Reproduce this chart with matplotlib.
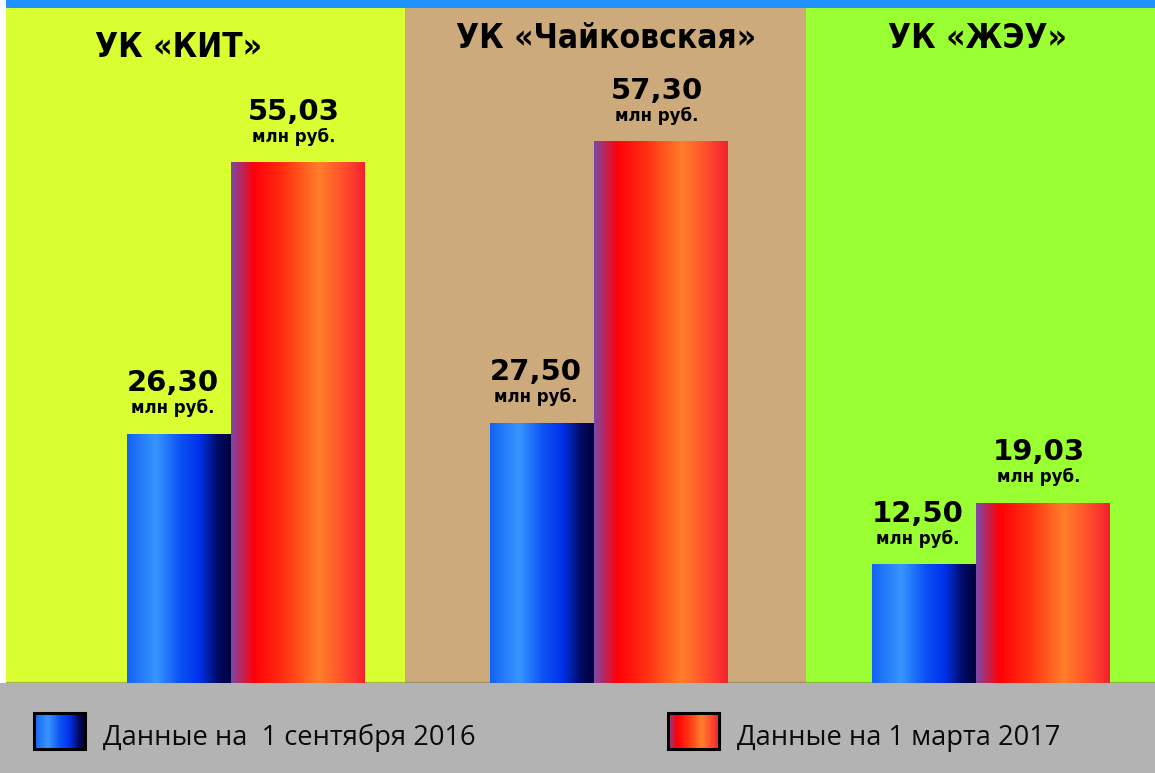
import matplotlib
matplotlib.use('Agg')
import matplotlib.pyplot as plt
import numpy as np
from matplotlib.colors import LinearSegmentedColormap
from matplotlib.patches import Rectangle

# data
companies = ['УК «КИТ»', 'УК «Чайковская»', 'УК «ЖЭУ»']
sep_2016 = [26.30, 27.50, 12.50]
mar_2017 = [55.03, 57.30, 19.03]
sep_labels = ['26,30', '27,50', '12,50']
mar_labels = ['55,03', '57,30', '19,03']
legend_labels = ['Данные на  1 сентября 2016', 'Данные на 1 марта 2017']
unit = 'млн руб.'

panel_colors = ['#d9ff33', '#cdaa7b', '#99ff33']
panel_edges = [0, 399, 800, 1149]
blue_left = [121, 484, 866]
blue_w, red_w = 104, 134
title_x = [173, 600, 971]
title_base = [57, 48, 48]

blue_cmap = LinearSegmentedColormap.from_list('b', [
    (0.0, '#1462f2'), (0.28, '#3896ff'), (0.5, '#0d55f5'),
    (0.7, '#0030ea'), (0.88, '#000a60'), (1.0, '#00003c')])
red_cmap = LinearSegmentedColormap.from_list('r', [
    (0.0, '#7b48a8'), (0.17, '#ff0008'), (0.4, '#ff3212'),
    (0.66, '#ff7f2a'), (0.85, '#ff4c2c'), (1.0, '#f42030')])
grad = np.linspace(0, 1, 256).reshape(1, -1)

W, H = 1155, 773
fig = plt.figure(figsize=(W / 100, H / 100), dpi=100)
fig.patch.set_facecolor('white')

# top strip
fig.add_artist(Rectangle((6 / W, 1 - 8 / H), 1, 8 / H, transform=fig.transFigure,
                         color='#1e90ff', lw=0))

ax = fig.add_axes([6 / W, 90 / H, 1149 / W, 675 / H])
ax.axis('off')

for i in range(3):
    ax.axvspan(panel_edges[i], panel_edges[i + 1], color=panel_colors[i], lw=0, zorder=0)
ax.axhline(0.05, color='#7d7d55', lw=1.5, alpha=0.6, zorder=1)

px = 675 / 9.45 / 675  # data units per pixel (vertical)
for i in range(3):
    bx = blue_left[i]
    rx = bx + blue_w
    ax.imshow(grad, cmap=blue_cmap, extent=[bx, rx, 0, sep_2016[i]],
              aspect='auto', interpolation='bicubic', zorder=2)
    ax.imshow(grad, cmap=red_cmap, extent=[rx, rx + red_w, 0, mar_2017[i]],
              aspect='auto', interpolation='bicubic', zorder=2)
    for cx, val, lab in [(bx + blue_w / 2 - 6, sep_2016[i], sep_labels[i]),
                         (rx + red_w / 2 - 4, mar_2017[i], mar_labels[i])]:
        ax.text(cx, val + 43 * px, lab, ha='center', va='baseline',
                fontsize=21, fontweight='bold', family='DejaVu Sans', zorder=3)
        ax.text(cx, val + 21 * px, unit, ha='center', va='baseline',
                fontsize=12, fontweight='bold', family='DejaVu Sans', zorder=3)
    fig.text((title_x[i] + 6) / W, 1 - title_base[i] / H, companies[i],
             ha='center', va='baseline', fontsize=24, fontweight='bold',
             fontstretch='condensed', family='DejaVu Sans')
ax.set_xlim(0, 1149)
ax.set_ylim(0, 675 / 9.45)

# legend band
lax = fig.add_axes([0, 0, 1, 90 / H])
lax.set_facecolor('#b3b3b3')
lax.set_xticks([])
lax.set_yticks([])
for s in lax.spines.values():
    s.set_visible(False)
for (x0, cmap, lab) in [(34, blue_cmap, legend_labels[0]), (668, red_cmap, legend_labels[1])]:
    lax.imshow(grad, cmap=cmap, extent=[x0, x0 + 51, 749, 713], aspect='auto',
               interpolation='bicubic', zorder=2)
    lax.add_patch(Rectangle((x0, 713), 51, 36, fill=False, ec='black', lw=2.2, zorder=3))
    lax.text(x0 + 69, 745, lab, ha='left', va='baseline', fontsize=19.6,
             family='Open Sans', color='#0a0a0a')
lax.set_xlim(0, W)
lax.set_ylim(773, 683)

fig.savefig('out.png', dpi=100)
